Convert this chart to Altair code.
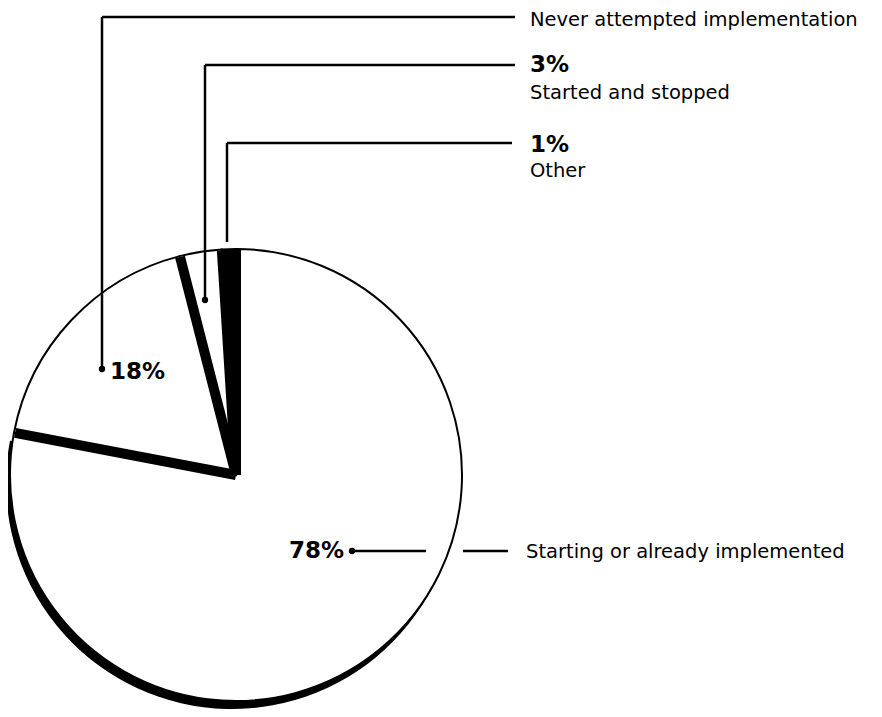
import altair as alt
import pandas as pd

# ---- data ----
categories = ["Starting or already implemented", "Never attempted implementation",
              "Started and stopped", "Other"]
values = [78, 18, 3, 1]
order_idx = [0, 1, 2, 3]
slice_fill = ["white", "white", "white", "black"]

# pie placement (in the chart's pixel-like data space)
pie_cx = [236]
pie_cy = [475]

# leader line segments
seg_x1 = [102, 102, 205, 205, 227, 227, 352, 463]
seg_y1 = [369, 17, 300, 65, 242, 143, 551, 551]
seg_x2 = [102, 515, 205, 515, 227, 512, 426, 508]
seg_y2 = [17, 17, 65, 65, 143, 143, 551, 551]

# leader dots
dot_x = [102, 205, 352]
dot_y = [369, 300, 551]

# bold percent labels
pct_text = [f"{values[1]}%", f"{values[2]}%", f"{values[3]}%"]
pct_x = [110, 530, 530]
pct_y = [372, 65, 145]
big_text = [f"{values[0]}%"]
big_x = [344]
big_y = [551]

# category labels
cat_text = [categories[1], categories[2], categories[3], categories[0]]
cat_x = [530, 530, 530, 526]
cat_y = [20, 93, 171, 552]

# ---- frames ----
pie_df = pd.DataFrame({
    "category": categories, "value": values, "idx": order_idx,
    "fill": slice_fill, "cx": pie_cx * 4, "cy": pie_cy * 4,
})
seg_df = pd.DataFrame({"x1": seg_x1, "y1": seg_y1, "x2": seg_x2, "y2": seg_y2})
dot_df = pd.DataFrame({"x": dot_x, "y": dot_y})
pct_df = pd.DataFrame({"t": pct_text, "x": pct_x, "y": pct_y})
big_df = pd.DataFrame({"t": big_text, "x": big_x, "y": big_y})
cat_df = pd.DataFrame({"t": cat_text, "x": cat_x, "y": cat_y})

xs = alt.Scale(domain=[8, 874], nice=False, zero=False)
ys = alt.Scale(domain=[8, 709], nice=False, zero=False, reverse=True)

R = 226

def pos(xf, yf):
    return dict(x=alt.X(f"{xf}:Q", scale=xs, axis=None),
                y=alt.Y(f"{yf}:Q", scale=ys, axis=None))

theta = alt.Theta("value:Q", stack=True)
order = alt.Order("idx:Q")

shadow = alt.Chart(pie_df).transform_filter(alt.datum.idx == 0).mark_arc(
    outerRadius=R, fill="black", xOffset=-4, yOffset=8
).encode(theta=theta, order=order, **pos("cx", "cy"))

slices = alt.Chart(pie_df).mark_arc(
    outerRadius=R, stroke="black", strokeWidth=2
).encode(theta=theta, order=order,
         fill=alt.Fill("fill:N", scale=None),
         **pos("cx", "cy"))

# black separator bands along slice boundaries (computed from cumulative values)
seps = alt.Chart(pie_df).transform_window(
    cum="sum(value)", sort=[alt.SortField("idx")], frame=[None, 0]
).transform_joinaggregate(total="sum(value)").transform_calculate(
    ang="datum.cum / datum.total * 2 * PI",
    bx=f"datum.cx + {R - 1} * sin(datum.ang)",
    by=f"datum.cy - {R - 1} * cos(datum.ang)",
).mark_rule(color="black", strokeWidth=10, strokeCap="butt").encode(
    x=alt.X("cx:Q", scale=xs, axis=None), y=alt.Y("cy:Q", scale=ys, axis=None),
    x2="bx:Q", y2="by:Q")

rules = alt.Chart(seg_df).mark_rule(color="black", strokeWidth=2.5).encode(
    x=alt.X("x1:Q", scale=xs, axis=None), y=alt.Y("y1:Q", scale=ys, axis=None),
    x2="x2:Q", y2="y2:Q")

dots = alt.Chart(dot_df).mark_circle(color="black", opacity=1, size=40).encode(
    **pos("x", "y"))

pct = alt.Chart(pct_df).mark_text(
    align="left", baseline="middle", font="DejaVu Sans", fontWeight="bold",
    fontSize=23, color="black"
).encode(text="t:N", **pos("x", "y"))

big = alt.Chart(big_df).mark_text(
    align="right", baseline="middle", font="DejaVu Sans", fontWeight="bold",
    fontSize=23, color="black"
).encode(text="t:N", **pos("x", "y"))

cats = alt.Chart(cat_df).mark_text(
    align="left", baseline="middle", font="DejaVu Sans", fontSize=19.5, color="black"
).encode(text="t:N", **pos("x", "y"))

chart = alt.layer(shadow, slices, seps, rules, dots, pct, big, cats).properties(
    width=866, height=701, padding=0, autosize=alt.AutoSizeParams(type="none"),
    background="white"
).configure_view(stroke=None)

chart.save("out.html", embed_options={"renderer": "svg", "actions": False})
